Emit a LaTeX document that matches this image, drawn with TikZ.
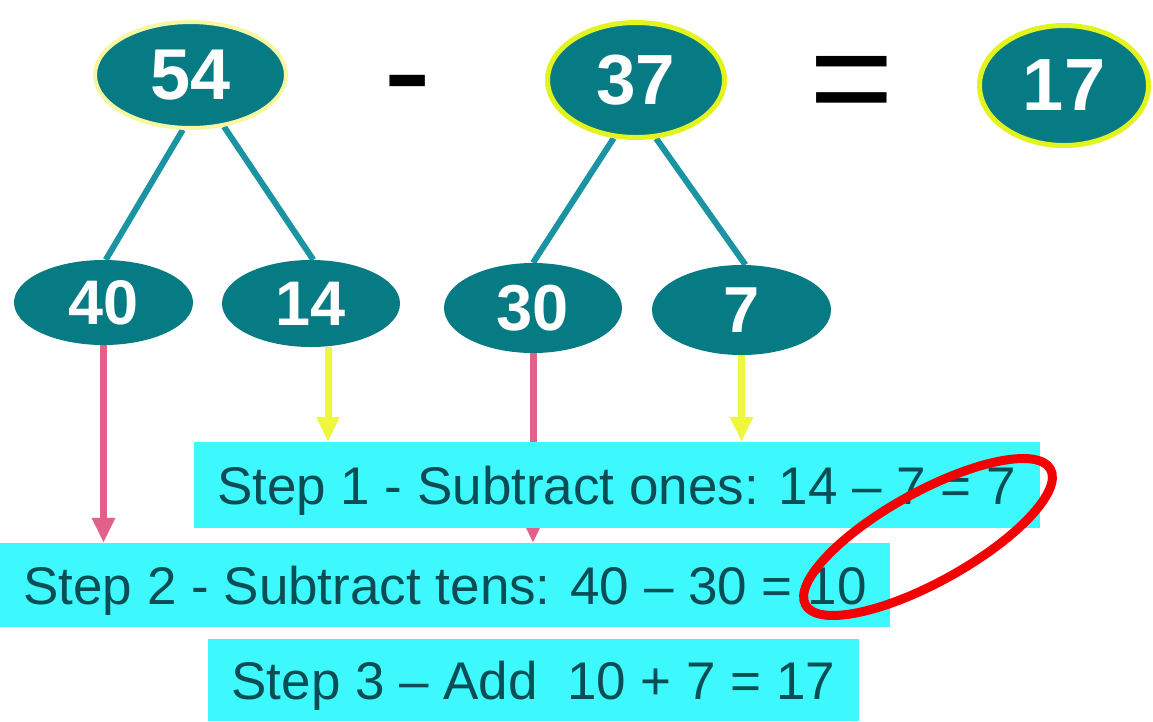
\documentclass[tikz,border=0pt]{standalone}
\usepackage{fontspec}
\setmainfont{Liberation Sans}
\usetikzlibrary{shapes.geometric,arrows.meta}
\pgfdeclarelayer{background}
\pgfsetlayers{background,main}
\definecolor{blobteal}{HTML}{077B84}
\definecolor{branchteal}{HTML}{1A93A3}
\definecolor{boxcyan}{HTML}{3DF9FD}
\definecolor{boxtext}{HTML}{0B4D55}
\definecolor{tenspink}{HTML}{E0628A}
\definecolor{onesyellow}{HTML}{EEF63E}
\definecolor{paleyellow}{HTML}{F7F7A3}
\definecolor{limeyellow}{HTML}{E2F31E}
\definecolor{ringred}{HTML}{F50000}
\begin{document}
\begin{tikzpicture}[x=1pt,y=-1pt,
  numblob/.style={ellipse,fill=blobteal,text=white,inner sep=0pt,font=\bfseries\fontsize{#1}{#1}\selectfont},
  paleedge/.style={draw=paleyellow,line width=4pt},
  limeedge/.style={draw=limeyellow,line width=5pt},
  branch/.style={draw=branchteal,line width=6pt},
  tensarrow/.style={draw=tenspink,line width=7pt,-{Triangle[width=22pt,length=25pt]}},
  onesarrow/.style={draw=onesyellow,line width=7pt,-{Triangle[width=22pt,length=25pt]}},
  stepbox/.style={rectangle,fill=boxcyan,text=boxtext,inner sep=0pt,text height=38pt,text depth=0pt,font=\fontsize{53}{53}\selectfont},
  opsign/.style={anchor=base,inner sep=0pt,font=\fontsize{145}{145}\selectfont}]
\useasboundingbox (0,0) rectangle (1153,721);
% top row
\node[numblob=72,paleedge,minimum width=191pt,minimum height=106pt] (n54) at (190.5,75) {54};
\node[opsign] (minus) at (408,119) {-};
\node[numblob=71,limeedge,minimum width=177pt,minimum height=115pt] (n37) at (636,80) {37};
\node[opsign] (equals) at (852,127) {=};
\node[numblob=74,limeedge,minimum width=169pt,minimum height=120pt] (n17) at (1064,85.5) {17};
% split into tens and ones
\node[numblob=63,minimum width=179pt,minimum height=85pt] (n40) at (103.5,302.5) {40};
\node[numblob=63,minimum width=178pt,minimum height=87pt] (n14) at (311,303.5) {14};
\node[numblob=65,minimum width=178pt,minimum height=90pt] (n30) at (533,308) {30};
\node[numblob=65,minimum width=179pt,minimum height=90pt] (n7) at (741.5,310) {7};
% steps
\node[stepbox,minimum width=846pt,minimum height=86pt] (stepone) at (616.5,485) {Step 1 - Subtract ones: 14 – 7 = 7};
\node[stepbox,minimum width=890pt,minimum height=84pt] (steptwo) at (445,585) {Step 2 - Subtract tens: 40 – 30 = 10};
\node[stepbox,minimum width=651pt,minimum height=82pt] (stepthree) at (533.5,680) {Step 3 – Add~~10 + 7 = 17};
\begin{pgfonlayer}{background}
\draw[branch] (n54.262) -- (n40.87);
\draw[branch] (n54.303) -- (n14.87);
\draw[branch] (n37.249) -- (n30.90);
\draw[branch] (n37.289) -- (n7.85);
\draw[tensarrow] (n40.south) -- (n40.south |- steptwo.north);
\draw[tensarrow] (n30.south) -- (n30.south |- steptwo.north);
\draw[onesarrow] ([xshift=17pt]n14.south) -- ([xshift=17pt]n14.south |- stepone.north);
\draw[onesarrow] (n7.south) -- (n7.south |- stepone.north);
\end{pgfonlayer}
% circled result
\draw[ringred,line width=9pt,rotate around={29:(928,537)}] (928,537) ellipse [x radius=140pt,y radius=45pt];
\end{tikzpicture}
\end{document}
